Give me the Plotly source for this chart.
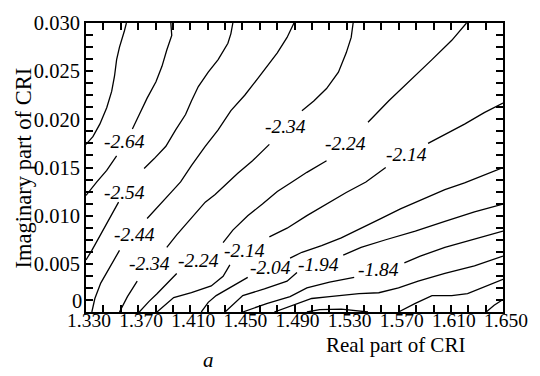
import plotly.graph_objects as go

# Iso-lines of the retrieved quantity over the complex refractive index (CRI) plane.
# Each level: real part (x) and imaginary part (y); None breaks the line where a label sits.
lvl_m274_x = [1.3610, 1.3595, 1.3557, 1.3535, 1.3519, 1.3497, 1.3459, 1.3406, 1.3353, 1.3300]
lvl_m274_y = [0.0300, 0.0292, 0.0275, 0.0262, 0.0245, 0.0229, 0.0212, 0.0195, 0.0182, 0.0174]

lvl_m264_x = [1.3951, 1.3958, 1.3920, 1.3883, 1.3837, 1.3769, 1.3709, 1.3656, None,
              1.3535, 1.3459, 1.3383, 1.3300]
lvl_m264_y = [0.0300, 0.0287, 0.0272, 0.0255, 0.0239, 0.0222, 0.0205, 0.0190, None,
              0.0162, 0.0147, 0.0135, 0.0121]

lvl_m254_x = [1.4427, 1.4412, 1.4389, 1.4314, 1.4238, 1.4162, 1.4109, 1.4064, 1.3988, 1.3913,
              1.3822, 1.3746, None, 1.3550, 1.3482, 1.3406, 1.3345, 1.3300]
lvl_m254_y = [0.0300, 0.0289, 0.0279, 0.0262, 0.0249, 0.0234, 0.0219, 0.0205, 0.0189, 0.0172,
              0.0159, 0.0149, None, 0.0114, 0.0097, 0.0079, 0.0064, 0.0054]

lvl_m244_x = [1.4896, 1.4843, 1.4768, 1.4692, 1.4616, 1.4518, 1.4412, 1.4314, 1.4215, 1.4109,
              1.4026, 1.3958, 1.3898, 1.3837, 1.3769, None, 1.3557, 1.3482, 1.3413, 1.3368, 1.3345]
lvl_m244_y = [0.0300, 0.0285, 0.0269, 0.0255, 0.0242, 0.0225, 0.0209, 0.0189, 0.0172, 0.0152,
              0.0135, 0.0125, 0.0116, 0.0107, 0.0097, None, 0.0064, 0.0047, 0.0030, 0.0014, 0.0]

lvl_m234_x = [1.5350, 1.5335, 1.5297, 1.5237, 1.5146, 1.5048, 1.4957, None,
              1.4707, 1.4578, 1.4465, 1.4374, 1.4291, 1.4215, 1.4125, 1.4064, 1.3996, 1.3920, None,
              1.3693, 1.3618, 1.3557]
lvl_m234_y = [0.0300, 0.0285, 0.0269, 0.0249, 0.0232, 0.0219, 0.0209, None,
              0.0174, 0.0157, 0.0144, 0.0132, 0.0122, 0.0114, 0.0100, 0.0091, 0.0080, 0.0067, None,
              0.0032, 0.0016, 0.0]

lvl_m224_x = [1.6220, 1.6107, 1.5955, 1.5774, 1.5622, 1.5464, None,
              1.5146, 1.4995, 1.4881, 1.4768, 1.4654, 1.4541, 1.4427, 1.4352, None,
              1.3996, 1.3920, 1.3845, 1.3784, 1.3709]
lvl_m224_y = [0.0300, 0.0282, 0.0262, 0.0239, 0.0219, 0.0197, None,
              0.0157, 0.0145, 0.0135, 0.0125, 0.0112, 0.0100, 0.0085, 0.0072, None,
              0.0040, 0.0029, 0.0019, 0.0011, 0.0]

lvl_m214_x = [1.6500, 1.6356, 1.6205, 1.6054, 1.5925, None,
              1.5600, 1.5448, 1.5297, 1.5146, 1.4995, 1.4843, 1.4707, None,
              1.4404, 1.4352, 1.4261, 1.4109, 1.3973, 1.3845]
lvl_m214_y = [0.0217, 0.0207, 0.0195, 0.0184, 0.0175, None,
              0.0150, 0.0135, 0.0124, 0.0112, 0.0100, 0.0087, 0.0078, None,
              0.0049, 0.0037, 0.0027, 0.0020, 0.0015, 0.0]

lvl_m204_x = [1.6500, 1.6356, 1.6205, 1.6054, 1.5880, 1.5713, 1.5562, 1.5411, 1.5259, 1.5108,
              1.4957, 1.4866, None, 1.4541, 1.4465, 1.4389, 1.4299, 1.4238, 1.4185]
lvl_m204_y = [0.0150, 0.0142, 0.0134, 0.0127, 0.0117, 0.0107, 0.0097, 0.0087, 0.0077, 0.0069,
              0.0062, 0.0056, None, 0.0036, 0.0030, 0.0024, 0.0017, 0.0010, 0.0]

lvl_m194_x = [1.6500, 1.6281, 1.6054, 1.5827, 1.5600, 1.5411, 1.5274, None,
              1.4919, 1.4843, 1.4669, 1.4503, 1.4367]
lvl_m194_y = [0.0112, 0.0104, 0.0094, 0.0084, 0.0075, 0.0067, 0.0059, None,
              0.0041, 0.0032, 0.0024, 0.0017, 0.0]

lvl_m184_x = [1.6500, 1.6281, 1.6054, 1.5865, 1.5743, None,
              1.5358, 1.5169, 1.4995, 1.4866, 1.4692, 1.4503]
lvl_m184_y = [0.0084, 0.0076, 0.0067, 0.0058, 0.0051, None,
              0.0036, 0.0031, 0.0025, 0.0016, 0.0009, 0.0]

lvl_m174_x = [1.4745, 1.4843, 1.5032, 1.5169, 1.5395, 1.5547, 1.5698, 1.5849, 1.6054, 1.6281, 1.6500]
lvl_m174_y = [0.0, 0.0005, 0.0014, 0.0016, 0.0019, 0.0020, 0.0025, 0.0032, 0.0040, 0.0048, 0.0058]

lvl_m164_x = [1.4995, 1.5093, 1.5259, 1.5426, 1.5464, None,
              1.5698, 1.5827, 1.5955, 1.6107, 1.6228, 1.6379, 1.6500]
lvl_m164_y = [0.0, 0.00025, 0.0003, 0.0001, 0.0, None,
              0.0, 0.0009, 0.0017, 0.0017, 0.0019, 0.0027, 0.0034]

lvl_m154_x = [1.6371, 1.6432, 1.6500]
lvl_m154_y = [0.0, 0.0007, 0.0013]

levels = [
    (lvl_m274_x, lvl_m274_y), (lvl_m264_x, lvl_m264_y), (lvl_m254_x, lvl_m254_y),
    (lvl_m244_x, lvl_m244_y), (lvl_m234_x, lvl_m234_y), (lvl_m224_x, lvl_m224_y),
    (lvl_m214_x, lvl_m214_y), (lvl_m204_x, lvl_m204_y), (lvl_m194_x, lvl_m194_y),
    (lvl_m184_x, lvl_m184_y), (lvl_m174_x, lvl_m174_y), (lvl_m164_x, lvl_m164_y),
    (lvl_m154_x, lvl_m154_y),
]

# Inline contour labels: text and anchor point in data space
label_text = ["-2.64", "-2.54", "-2.44", "-2.34", "-2.24", "-2.14", "-2.04", "-1.94", "-1.84",
              "-2.34", "-2.24", "-2.14"]
label_x = [1.3595, 1.3595, 1.3671, 1.3784, 1.4162, 1.4518, 1.4715, 1.5085, 1.5547,
           1.4828, 1.5290, 1.5759]
label_y = [0.0177, 0.0124, 0.0080, 0.0050, 0.0053, 0.0064, 0.0046, 0.0049, 0.0044,
           0.0193, 0.0175, 0.0164]

x_ticks = [1.330, 1.370, 1.410, 1.450, 1.490, 1.530, 1.570, 1.610, 1.650]
y_ticks = [0.005, 0.010, 0.015, 0.020, 0.025, 0.030]
y_tick_text = ["0.005", "0.010", "0.015", "0.020", "0.025", "0.030"]

SERIF = "Liberation Serif, Times New Roman, serif"

fig = go.Figure()
for xs, ys in levels:
    fig.add_trace(go.Scatter(x=xs, y=ys, mode="lines", connectgaps=False,
                             line=dict(color="black", width=1.3), hoverinfo="skip",
                             showlegend=False))

annotations = []
for t, x, y in zip(label_text, label_x, label_y):
    annotations.append(dict(x=x, y=y, xref="x", yref="y", text=t, showarrow=False,
                            font=dict(family=SERIF, size=19.5, color="black", style="italic"),
                            xanchor="center", yanchor="middle"))

# "0" label sits a little above the corner so it clears the x tick labels
annotations.append(dict(x=0, y=0, xref="paper", yref="y", text="0", showarrow=False,
                        xanchor="right", yanchor="middle", xshift=-3, yshift=11,
                        borderpad=0,
                        font=dict(family=SERIF, size=20.5, color="black")))
annotations.append(dict(x=0.742, y=-0.113, xref="paper", yref="paper", text="Real part of CRI",
                        showarrow=False, xanchor="center", yanchor="middle",
                        font=dict(family=SERIF, size=21, color="black")))
annotations.append(dict(x=-0.151, y=0.497, xref="paper", yref="paper",
                        text="Imaginary part of CRI", textangle=-90, showarrow=False,
                        xanchor="center", yanchor="middle",
                        font=dict(family=SERIF, size=22.5, color="black")))
annotations.append(dict(x=0.293, y=-0.167, xref="paper", yref="paper", text="a",
                        showarrow=False, xanchor="center", yanchor="middle",
                        font=dict(family=SERIF, size=21, color="black", style="italic")))

axis_common = dict(showline=True, linewidth=2, linecolor="black", mirror="ticks",
                   ticks="inside", ticklen=7, tickwidth=1.5, tickcolor="black",
                   showgrid=False, zeroline=False)

fig.update_layout(
    width=540, height=376,
    margin=dict(l=86, r=31, t=12, b=64),
    plot_bgcolor="white", paper_bgcolor="white",
    xaxis=dict(range=[1.33, 1.65], tickmode="array", tickvals=x_ticks,
               ticktext=[f"{v:.3f}" for v in x_ticks], ticklabelstandoff=-10,
               ticklabelshift=3,
               tickfont=dict(family=SERIF, size=19.5, color="black"),
               minor=dict(tickmode="linear", tick0=1.33, dtick=0.04 / 3, ticks="inside",
                          ticklen=7, tickwidth=1.5, tickcolor="black", showgrid=False),
               **axis_common),
    yaxis=dict(range=[0, 0.030], tickmode="array", tickvals=y_ticks, ticktext=y_tick_text,
               tickfont=dict(family=SERIF, size=20.5, color="black"),
               minor=dict(tickmode="linear", tick0=0, dtick=0.00125, ticks="inside",
                          ticklen=7, tickwidth=1.5, tickcolor="black", showgrid=False),
               **axis_common),
    annotations=annotations,
)

fig.write_html("out.html")
